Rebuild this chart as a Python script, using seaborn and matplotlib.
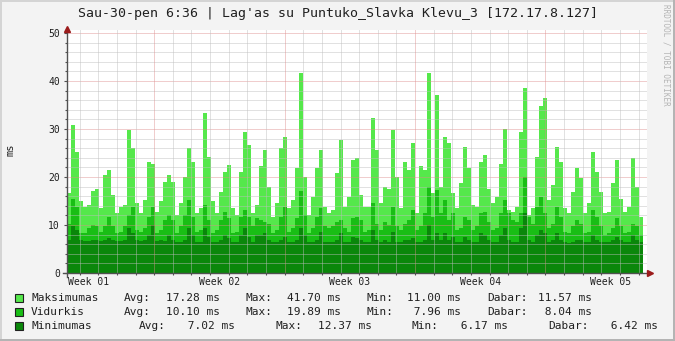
import numpy as np
import pandas as pd
import matplotlib
matplotlib.use("Agg")
import matplotlib.pyplot as plt
from matplotlib.patches import Rectangle
import seaborn as sns

# ---------------- data ----------------
title = "Sau-30-pen 6:36 | Lag'as su Puntuko_Slavka Klevu_3 [172.17.8.127]"
series_names = ["Maksimumas", "Vidurkis", "Minimumas"]
week_labels = ["Week 01", "Week 02", "Week 03", "Week 04", "Week 05"]
y_ticks = [0, 10, 20, 30, 40, 50]
y_unit = "ms"
watermark = "RRDTOOL / TOBI OETIKER"

maksimumas = [
    16.6, 30.8, 25.3, 15.0, 13.8, 14.2, 17.0, 17.6, 13.5, 20.5, 21.5, 16.3, 12.4, 13.8, 14.2, 29.8, 26.0, 14.5, 12.4, 15.2, 23.2, 22.8, 12.8, 14.9,
    19.0, 20.4, 19.0, 12.1, 14.5, 20.1, 26.0, 23.2, 12.4, 13.5, 33.3, 24.2, 15.0, 12.4, 16.9, 21.1, 22.5, 13.5, 12.1, 21.1, 29.4, 26.7, 12.4, 14.2,
    22.2, 25.6, 18.0, 11.7, 14.5, 26.0, 28.4, 13.5, 15.2, 21.8, 41.6, 20.1, 12.1, 15.9, 21.8, 25.6, 13.8, 12.4, 13.1, 20.8, 27.8, 13.8, 15.9, 23.5,
    23.9, 16.3, 13.8, 13.8, 32.2, 25.6, 14.5, 18.0, 17.6, 29.8, 20.1, 13.5, 23.2, 21.5, 27.0, 12.4, 22.2, 21.5, 41.7, 16.6, 37.1, 18.0, 28.4, 27.0,
    16.6, 13.5, 18.7, 26.3, 21.8, 14.2, 13.8, 23.2, 24.6, 17.6, 14.5, 15.9, 22.8, 30.1, 13.1, 12.8, 13.8, 29.4, 38.5, 12.1, 13.5, 24.2, 34.7, 36.4,
    15.2, 18.3, 26.3, 23.2, 13.5, 12.4, 16.9, 21.8, 19.7, 12.4, 14.5, 25.3, 21.1, 16.9, 12.4, 12.8, 18.7, 23.5, 15.5, 12.8, 13.8, 23.9, 18.0, 11.6,
]
vidurkis = [
    10.3, 15.5, 13.8, 8.3, 8.3, 9.3, 10.0, 9.7, 8.6, 9.7, 11.7, 9.7, 8.3, 8.6, 9.7, 12.1, 13.8, 9.0, 8.6, 9.3, 11.7, 13.8, 8.3, 9.0,
    11.0, 12.1, 11.0, 8.3, 9.7, 12.1, 15.2, 11.7, 8.6, 9.0, 14.2, 11.0, 8.3, 9.0, 11.0, 12.8, 11.4, 8.3, 8.6, 11.7, 13.1, 11.7, 9.7, 11.4,
    11.0, 10.7, 10.3, 8.3, 9.0, 11.7, 13.8, 8.6, 9.3, 11.4, 17.0, 12.1, 8.3, 9.3, 11.7, 13.5, 9.7, 9.3, 9.7, 10.7, 11.0, 9.3, 8.6, 11.4,
    11.7, 11.0, 8.6, 9.0, 14.5, 10.3, 9.0, 10.7, 10.0, 13.8, 9.7, 9.0, 10.3, 11.0, 13.1, 9.0, 9.7, 12.4, 18.0, 11.7, 17.3, 12.4, 15.2, 11.0,
    12.4, 9.0, 9.3, 11.7, 11.0, 9.0, 9.7, 12.4, 12.8, 10.7, 9.0, 9.3, 12.4, 15.2, 12.4, 11.0, 10.7, 12.4, 19.9, 11.7, 10.3, 13.8, 15.9, 12.4,
    9.3, 10.3, 13.8, 11.7, 8.6, 8.3, 9.7, 11.0, 10.3, 8.3, 8.6, 13.1, 11.7, 9.7, 8.0, 8.3, 9.3, 11.4, 9.7, 8.3, 8.6, 10.3, 9.7, 8.0,
]
minimumas = [
    6.9, 9.7, 9.0, 6.9, 6.6, 6.6, 6.9, 6.9, 6.6, 6.9, 7.2, 6.9, 6.6, 6.6, 6.9, 9.3, 8.3, 6.9, 6.6, 6.9, 7.9, 10.0, 6.6, 6.9,
    6.6, 7.9, 6.9, 6.5, 6.5, 6.9, 9.3, 7.9, 6.5, 6.5, 9.3, 7.6, 6.5, 6.5, 6.9, 7.9, 7.2, 6.5, 6.5, 7.9, 9.3, 7.6, 6.5, 7.9,
    7.9, 8.3, 6.9, 6.5, 6.5, 6.9, 7.6, 6.5, 6.5, 6.9, 9.3, 7.9, 6.5, 6.5, 6.9, 8.6, 6.5, 6.5, 6.5, 6.9, 8.3, 6.5, 6.5, 7.6,
    7.2, 6.9, 6.5, 6.5, 9.0, 6.9, 6.5, 6.9, 6.5, 8.6, 6.5, 6.5, 6.9, 6.9, 7.2, 6.5, 6.5, 6.9, 10.0, 6.9, 8.3, 6.9, 8.3, 6.9,
    7.6, 6.5, 6.5, 7.6, 6.9, 6.5, 6.5, 8.3, 7.9, 6.9, 6.5, 6.5, 7.9, 9.3, 6.9, 6.5, 6.5, 9.4, 12.4, 6.9, 6.5, 7.9, 9.0, 8.3,
    6.5, 6.9, 8.3, 6.9, 6.5, 6.2, 6.5, 6.9, 6.9, 6.5, 6.5, 7.9, 6.9, 6.5, 6.5, 6.5, 6.9, 7.6, 6.9, 6.5, 6.5, 7.9, 6.9, 6.4,
]

stat_avg = [17.28, 10.10, 7.02]
stat_max = [41.70, 19.89, 12.37]
stat_min = [11.00, 7.96, 6.17]
stat_cur = [11.57, 8.04, 6.42]
stat_words = ["Avg:", "Max:", "Min:", "Dabar:"]

# ---------------- style / layout ----------------
W, H = 675, 341
colors = ["#55E84B", "#19BE15", "#0A870A"]
PX_PER_DAY = 18.63
SAMPLE_DAYS = 4 / PX_PER_DAY
FIRST_WEEK_START = 87.2 / PX_PER_DAY    # first major grid line (days from left edge)
X0, X1 = 67, 647
Y0, Y1 = 273, 30
YMAX = (Y0 - Y1) / 4.8

plt.rcParams["font.family"] = ["DejaVu Sans Mono", "DejaVu Sans"]

fig = plt.figure(figsize=(W / 100, H / 100), dpi=100, facecolor="#F3F3F3")
ax = fig.add_axes([X0 / W, (H - Y0) / H, (X1 - X0) / W, (Y0 - Y1) / H])
ax.set_facecolor("white")

n = len(maksimumas)
mids = (np.arange(n) + 0.5) * SAMPLE_DAYS
for vals, col, z in zip([maksimumas, vidurkis, minimumas], colors, [2, 3, 4]):
    df = pd.DataFrame({"t": mids, "v": vals})
    sns.histplot(data=df, x="t", weights="v", binwidth=SAMPLE_DAYS,
                 binrange=(0, n * SAMPLE_DAYS), element="step",
                 fill=True, color=col, alpha=1, linewidth=0, ax=ax, zorder=z)

xmax = (X1 - X0) / PX_PER_DAY
ax.set_xlim(0, xmax)
ax.set_ylim(0, YMAX)
ax.set_xlabel("")
ax.set_ylabel("")
for s in ax.spines.values():
    s.set_visible(False)

# grid (1px dots, 1px gaps)
dots = (0, (1, 1))
lw = 0.72
minor_y = [v for v in np.arange(2, YMAX, 2) if v % 10 != 0]
major_y = [v for v in y_ticks if v > 0]
gray_c, red_c = "#BEBEBE", "#DE8C8C"
ax.hlines(minor_y, 0, xmax, colors=gray_c, alpha=0.9, linewidth=lw, linestyles=dots, zorder=6)
ax.hlines(major_y, 0, xmax, colors=red_c, alpha=0.85, linewidth=lw, linestyles=dots, zorder=6)
days = FIRST_WEEK_START + np.arange(-4, 30)
days = days[(days > 0) & (days < xmax)]
weeks = FIRST_WEEK_START + 7 * np.arange(0, 4)
minor_x = [d for d in days if np.min(np.abs(weeks - d)) > 0.1]
ax.vlines(minor_x, 0, YMAX, colors=gray_c, alpha=0.9, linewidth=lw, linestyles=dots, zorder=6)
ax.vlines(weeks, 0, YMAX, colors=red_c, alpha=0.85, linewidth=lw, linestyles=dots, zorder=6)

# ticks
axis_col = "#505050"
ax.set_yticks(y_ticks)
ax.set_yticks(np.arange(0, YMAX, 2), minor=True)
ax.tick_params(axis="y", which="major", length=2.5, width=0.8, color=axis_col, pad=2.5,
               labelsize=7, labelcolor="#202020")
ax.tick_params(axis="y", which="minor", length=1.5, width=0.8, color=axis_col)
label_pos = weeks[0] - 3.5 + 7 * np.arange(len(week_labels))
ax.set_xticks(label_pos, week_labels)
ax.set_xticks(days, minor=True)
ax.tick_params(axis="x", which="major", length=0, pad=3, labelsize=7, labelcolor="#202020")
ax.tick_params(axis="x", which="minor", length=1.5, width=0.8, color=axis_col)

# axis lines with arrows
arrow_col = "#9B1B1B"
ax.plot([0, 0], [-4 / (Y0 - Y1), 1.0], transform=ax.transAxes, color=axis_col,
        linewidth=1, clip_on=False, zorder=8)
ax.plot([-4 / (X1 - X0), 1.0], [0, 0], transform=ax.transAxes, color=axis_col,
        linewidth=1, clip_on=False, zorder=8)
ax.plot([0], [1.0 + 1.5 / (Y0 - Y1)], marker="^", markersize=4.5, color=arrow_col,
        transform=ax.transAxes, clip_on=False, zorder=9)
ax.plot([1.0 + 3 / (X1 - X0)], [0], marker=">", markersize=4.5, color=arrow_col,
        transform=ax.transAxes, clip_on=False, zorder=9)

# texts
def fx(px):
    return px / W

def fy(py):
    return 1 - py / H

fig.text(0.5, fy(13.5), title, ha="center", va="center", fontsize=9.5, color="#202020")
fig.text(fx(11), fy(150), y_unit, rotation=90, ha="center", va="center", fontsize=7.5, color="#202020")
fig.text(fx(666), fy(4), watermark, rotation=270, ha="center", va="top", fontsize=5.5, color="#B4B4B4")

row_y = [298, 312, 326]
row_pos = [
    [31, 124, 166, 245, 287, 366, 407, 487, 538],
    [31, 124, 166, 245, 287, 366, 407, 487, 538],
    [31, 139, 181, 276, 318, 412, 454, 548, 604],
]
for r in range(3):
    y = row_y[r]
    p = row_pos[r]
    fig.add_artist(Rectangle((fx(15), fy(y + 4)), 8 / W, 8 / H, transform=fig.transFigure,
                             facecolor=colors[r], edgecolor="#202020", linewidth=0.8))
    pieces = [series_names[r],
              stat_words[0], f"{stat_avg[r]:5.2f} ms",
              stat_words[1], f"{stat_max[r]:5.2f} ms",
              stat_words[2], f"{stat_min[r]:5.2f} ms",
              stat_words[3], f"{stat_cur[r]:5.2f} ms"]
    for px, txt in zip(p, pieces):
        fig.text(fx(px), fy(y), txt, ha="left", va="center", fontsize=8, color="#202020")

# frame (3D border)
fig.add_artist(Rectangle((0, 0), 2 / W, 1, transform=fig.transFigure, facecolor="#D4D4D4", edgecolor="none"))
fig.add_artist(Rectangle((0, 1 - 2 / H), 1, 2 / H, transform=fig.transFigure, facecolor="#D4D4D4", edgecolor="none"))
fig.add_artist(Rectangle((1 - 2 / W, 0), 2 / W, 1, transform=fig.transFigure, facecolor="#B4B4B4", edgecolor="none"))
fig.add_artist(Rectangle((0, 0), 1, 2 / H, transform=fig.transFigure, facecolor="#B4B4B4", edgecolor="none"))

fig.savefig("out.png", dpi=100, facecolor=fig.get_facecolor())
